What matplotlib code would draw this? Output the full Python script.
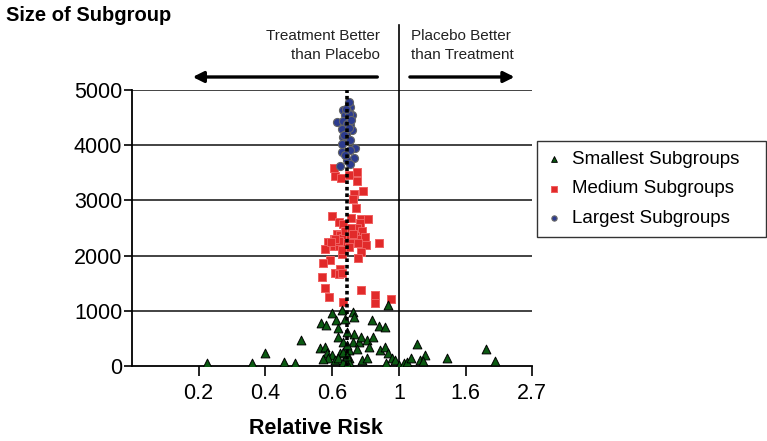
import numpy as np
import matplotlib
matplotlib.use("Agg")
import matplotlib.pyplot as plt

plt.rcParams['font.family'] = ['Liberation Sans', 'DejaVu Sans']

# relative risk / subgroup size
small_rr = [0.238, 0.332, 0.368, 0.423, 0.460, 0.482, 0.557, 0.580, 0.608, 0.654,
            0.708, 0.715, 0.623, 0.633, 0.667, 0.554, 0.576, 0.583, 0.605, 0.644,
            0.660, 0.590, 0.620, 0.636, 0.686, 0.636, 0.660, 0.715, 0.708, 0.741,
            0.754, 0.787, 0.797, 0.827, 0.733, 0.815, 0.859, 0.903, 0.869, 0.903,
            0.925, 0.758, 0.787, 0.909, 0.949, 0.973, 0.998, 1.036, 1.062, 1.094,
            1.145, 1.168, 1.218, 1.197, 1.433, 1.925, 2.049, 0.925, 0.686, 0.686,
            0.660, 0.568, 0.68, 0.68, 0.68, 0.68]
small_n = [60, 60, 242, 72, 60, 471, 773, 749, 954, 1015,
           984, 894, 833, 682, 846, 320, 350, 229, 199, 229,
           260, 139, 109, 139, 290, 519, 441, 580, 441, 441,
           519, 471, 350, 531, 302, 833, 725, 713, 290, 338,
           229, 109, 139, 48, 139, 109, 18, 48, 78, 139,
           399, 109, 199, 97, 139, 302, 97, 1105, 139, 78,
           78, 121, 30, 180, 380, 620]

medium_rr = [0.613, 0.730, 0.619, 0.647, 0.686, 0.730, 0.767, 0.712, 0.708, 0.723,
             0.607, 0.638, 0.660, 0.698, 0.752, 0.791, 0.748, 0.730, 0.758, 0.628,
             0.644, 0.616, 0.590, 0.660, 0.694, 0.721, 0.748, 0.777, 0.783, 0.859,
             0.613, 0.641, 0.677, 0.703, 0.735, 0.573, 0.754, 0.652, 0.735, 0.598,
             0.566, 0.644, 0.619, 0.638, 0.655, 0.562, 0.577, 0.754, 0.592, 0.837,
             0.837, 0.660, 0.944, 0.670, 0.700, 0.640, 0.690, 0.620, 0.710, 0.600,
             0.655]
medium_n = [3593, 3515, 3442, 3406, 3466, 3346, 3165, 3123, 3021, 2864,
            2714, 2612, 2569, 2690, 2654, 2654, 2593, 2491, 2449, 2389,
            2371, 2292, 2238, 2311, 2341, 2359, 2292, 2341, 2196, 2220,
            2178, 2178, 2220, 2232, 2232, 2112, 2064, 2027, 1961, 1919,
            1859, 1751, 1690, 1666, 1678, 1606, 1407, 1377, 1245, 1287,
            1149, 1167, 1209, 2450, 2500, 2260, 2150, 2300, 2400, 2250,
            2110]

large_rr = [0.686, 0.694, 0.660, 0.680, 0.703, 0.668, 0.628, 0.660, 0.677, 0.694,
            0.652, 0.703, 0.673, 0.660, 0.694, 0.652, 0.721, 0.694, 0.652, 0.712,
            0.677, 0.694, 0.644, 0.686, 0.698, 0.686, 0.668, 0.673, 0.690, 0.665]
large_n = [4719, 4688, 4640, 4616, 4538, 4538, 4418, 4436, 4387, 4357,
           4297, 4267, 4207, 4147, 4098, 4026, 3948, 3906, 3876, 3767,
           3725, 3665, 3617, 4568, 4460, 4779, 3816, 4660, 4320, 4180]

pooled_rr = 0.68
tick_pos = [-1.5, -1.0, -0.5, 0.0, 0.5, 1.0]
tick_labels = ['0.2', '0.4', '0.6', '1', '1.6', '2.7']

fig = plt.figure(figsize=(7.67, 4.41), dpi=100)
ax = fig.add_axes([0.172, 0.170, 0.522, 0.626])

ax.set_xscale('log')
ax.set_xlim(np.exp(-2), np.exp(1))
ax.set_ylim(0, 5000)

for yv in [1000, 2000, 3000, 4000, 5000]:
    ax.axhline(yv, color='#222222', lw=1.2, zorder=1)

ax.axvline(1, ymin=0, ymax=1.235, color='black', lw=1.2, clip_on=False, zorder=2)
ax.axvline(pooled_rr, ymin=0, ymax=1, color='black', lw=2.6,
           linestyle=(0, (1, 0.8)), zorder=5)

ax.scatter(small_rr, small_n, marker='^', s=40, color='#0b5a12',
           edgecolors='black', linewidths=0.7, zorder=4, label='Smallest Subgroups')
ax.scatter(medium_rr, medium_n, marker='s', s=38, color='#e12a2a',
           edgecolors='#f06060', linewidths=0.7, zorder=3, label='Medium Subgroups')
ax.scatter(large_rr, large_n, marker='o', s=34, color='#2c3b8e',
           edgecolors='#666666', linewidths=0.8, zorder=3, label='Largest Subgroups')

ax.set_xticks(np.exp(tick_pos))
ax.set_xticklabels(tick_labels)
ax.xaxis.set_minor_locator(matplotlib.ticker.NullLocator())
ax.set_yticks([0, 1000, 2000, 3000, 4000, 5000])
ax.tick_params(axis='both', labelsize=15.5, length=7, width=1.2, color='black')
ax.tick_params(axis='x', pad=5)
ax.tick_params(axis='y', length=6, pad=1)

for s in ['top', 'right']:
    ax.spines[s].set_visible(False)
for s in ['left', 'bottom']:
    ax.spines[s].set_linewidth(1.3)

# direction arrows and labels above the plot
ax.annotate('', xy=(0.209, 1.047), xytext=(0.869, 1.047),
            xycoords=('data', 'axes fraction'), textcoords=('data', 'axes fraction'),
            arrowprops=dict(arrowstyle='-|>', lw=2.4, color='black', mutation_scale=16))
ax.annotate('', xy=(2.43, 1.047), xytext=(1.064, 1.047),
            xycoords=('data', 'axes fraction'), textcoords=('data', 'axes fraction'),
            arrowprops=dict(arrowstyle='-|>', lw=2.4, color='black', mutation_scale=16))
ax.text(0.869, 1.162, 'Treatment Better\nthan Placebo', transform=ax.get_xaxis_transform(),
        ha='right', va='center', fontsize=11, color='#222222', linespacing=1.45)
ax.text(1.097, 1.162, 'Placebo Better\nthan Treatment', transform=ax.get_xaxis_transform(),
        ha='left', va='center', fontsize=11, color='#222222', linespacing=1.45)

fig.text(0.008, 0.964, 'Size of Subgroup', fontsize=14.5, fontweight='bold',
         ha='left', va='center')
fig.text(0.412, 0.028, 'Relative Risk', fontsize=15.5, fontweight='bold',
         ha='center', va='center')

leg = fig.legend(loc='upper left', bbox_to_anchor=(0.700, 0.470, 0.299, 0.210),
                 mode='expand', borderaxespad=0, fontsize=13.5,
                 frameon=True, fancybox=False, edgecolor='black', handlelength=0.8,
                 handletextpad=0.55, borderpad=0.5, labelspacing=0.68, markerscale=0.65)
leg.get_frame().set_linewidth(1.0)

fig.savefig('out.png', dpi=100)
